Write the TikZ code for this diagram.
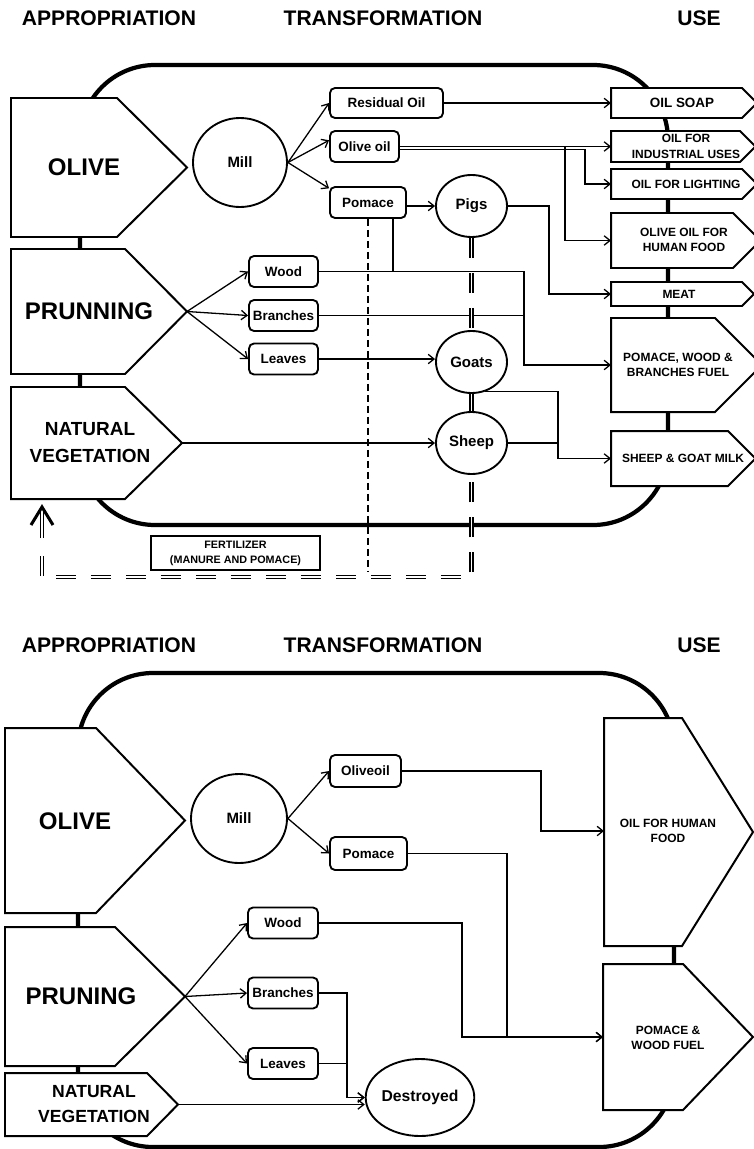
\documentclass[tikz,border=0pt]{standalone}
\usepackage{fontspec}
\setmainfont{Liberation Sans}
\usetikzlibrary{arrows.meta,shapes.geometric}

\begin{document}
\begin{tikzpicture}[x=0.03cm, y=-0.03cm,
  frame/.style={line width=3.6pt, rounded corners=2.25cm},
  flow/.style={draw, line width=1.7pt, fill=white, line join=miter},
  tbox/.style={draw, fill=white, line width=1.6pt, rounded corners=1.5mm,
               minimum height=0.93cm, inner sep=0pt,
               font=\fontsize{11.5}{13}\selectfont\bfseries},
  proc/.style={draw, ellipse, fill=white, line width=1.6pt, inner sep=0pt,
               font=\fontsize{12.8}{14}\selectfont\bfseries},
  head/.style={font=\fontsize{18}{20}\selectfont\bfseries},
  big/.style={font=\fontsize{20.5}{24}\selectfont\bfseries, align=center},
  veg/.style={font=\fontsize{16.2}{23}\selectfont\bfseries, align=center},
  sinklabel/.style={font=\fontsize{10.2}{13.2}\selectfont\bfseries, align=center},
  link/.style={line width=1.1pt},
  arrow/.style={link, -{Straight Barb[length=5pt,width=8pt]}},
  dbl/.style={double, double distance=1.6pt, line width=1.1pt},
  gaps/.style={dash pattern=on 0.6cm off 0.45cm},
  dots/.style={line width=1.6pt, dash pattern=on 0.21cm off 0.12cm}
]
\useasboundingbox (0,0) rectangle (753,1149);

%% ===================== upper diagram =====================
\node[head] (h-appr) at (109,18) {APPROPRIATION};
\node[head] (h-trans) at (383,18) {TRANSFORMATION};
\node[head] (h-use) at (699,18) {USE};

\draw[frame] (80,65) rectangle (668,525);

%% Appropriation
\draw[flow] (11,98) -- (117,98) -- (187,167.5) -- (117,237) -- (11,237) -- cycle;
\node[big] (olive) at (84,167) {OLIVE};

\draw[flow] (11,249) -- (125,249) -- (187,311.5) -- (125,374) -- (11,374) -- cycle;
\coordinate (prun-tip) at (187,311.5);
\node[big] (prun) at (89,311) {PRUNNING};

\draw[flow] (11,387) -- (125,387) -- (182,443) -- (125,499) -- (11,499) -- cycle;
\coordinate (veg-tip) at (182,443);
\node[veg] (veg) at (90,443) {NATURAL\\VEGETATION};

%% Use
\draw[flow] (611,88) -- (742,88) -- (757,103) -- (742,118) -- (611,118) -- cycle;
\coordinate (soap-in) at (611,103);
\node[sinklabel, font=\fontsize{11.5}{13}\selectfont\bfseries] (soap) at (682,103) {OIL SOAP};

\draw[flow] (611,131) -- (740,131) -- (755.5,146.5) -- (740,162) -- (611,162) -- cycle;
\coordinate (indus-in) at (611,146.5);
\node[sinklabel] (indus) at (686,146.5) {OIL FOR\\INDUSTRIAL USES};

\draw[flow] (611,169) -- (742,169) -- (757,184) -- (742,199) -- (611,199) -- cycle;
\coordinate (light-in) at (611,184);
\node[sinklabel] (light) at (686,184) {OIL FOR LIGHTING};

\draw[flow] (611,213) -- (733,213) -- (760.5,240.5) -- (733,268) -- (611,268) -- cycle;
\coordinate (human-in) at (611,240.5);
\node[sinklabel] (human) at (684,240) {OLIVE OIL FOR\\HUMAN FOOD};

\draw[flow] (611,282) -- (742,282) -- (754,294) -- (742,306) -- (611,306) -- cycle;
\coordinate (meat-in) at (611,294);
\node[sinklabel] (meat) at (679,294) {MEAT};

\draw[flow] (611,318) -- (715,318) -- (762,365) -- (715,412) -- (611,412) -- cycle;
\coordinate (fuel-in) at (611,365);
\node[sinklabel] (fuel) at (678,365) {POMACE, WOOD \&\\BRANCHES FUEL};

\draw[flow] (611,431) -- (728,431) -- (755.5,458.5) -- (728,486) -- (611,486) -- cycle;
\coordinate (milk-in) at (611,458.5);
\node[sinklabel] (milk) at (683,458.5) {SHEEP \& GOAT MILK};

%% Transformation
\node[proc, minimum width=2.82cm, minimum height=2.67cm] (mill) at (240,162.5) {Mill};
\node[tbox, minimum width=3.39cm, minimum height=0.9cm] (resid) at (386.5,103) {Residual Oil};
\node[tbox, minimum width=2.07cm] (oliveoil) at (364.5,146.5) {Olive oil};
\node[tbox, minimum width=2.28cm] (pomace) at (368,202.5) {Pomace};
\node[tbox, minimum width=2.07cm] (wood) at (283.5,271.5) {Wood};
\node[tbox, minimum width=2.07cm] (branches) at (283.5,315.5) {Branches};
\node[tbox, minimum width=2.07cm] (leaves) at (283.5,359) {Leaves};
\node[proc, minimum width=2.13cm, minimum height=1.86cm] (pigs) at (471.5,206) {Pigs};
\node[proc, minimum width=2.13cm, minimum height=1.86cm] (goats) at (471.5,362) {Goats};
\node[proc, minimum width=2.13cm, minimum height=1.86cm] (sheep) at (471.5,443) {Sheep};

\node[draw, fill=white, line width=1.4pt, minimum width=5.07cm, minimum height=1.02cm,
      inner sep=0pt, align=center, font=\fontsize{9.2}{12.8}\selectfont\bfseries]
  (fert) at (235.5,553) {FERTILIZER\\(MANURE AND POMACE)};

\coordinate (fb-corner) at (471.5,577);
\coordinate (fb-stem) at (42,556);
\coordinate (fb-end) at (42,507);
\coordinate (fuel-bus) at (524,365);
\coordinate (milk-bus) at (558,458.5);

%% Connectors
\draw[arrow] (mill.east) -- (resid.west);
\draw[arrow] (mill.east) -- (oliveoil.170);
\draw[arrow] (mill.east) -- (pomace.160);
\draw[arrow] (prun-tip) -- (wood.west);
\draw[arrow] (prun-tip) -- (branches.west);
\draw[arrow] (prun-tip) -- (leaves.west);

\draw[arrow] (resid.east) -- (soap-in);
\draw[arrow] (oliveoil.east) -- (indus-in);
\draw[arrow] ([yshift=-0.09cm]oliveoil.east) -- ++(185,0) |- (light-in);
\draw[arrow] (oliveoil.east) ++(165,0) |- (human-in);

\draw[arrow] (pigs.west -| pomace.east) -- (pigs.west);
\draw[link] ([xshift=0.75cm]pomace.south) -- ([xshift=0.75cm]pomace.south |- wood.east);
\draw[arrow] (wood.east) -| (fuel-bus) -- (fuel-in);
\draw[link] (branches.east) -| (fuel-bus);
\draw[arrow] (leaves.east) -- (leaves.east -| goats.west);
\draw[arrow] (veg-tip) -- (sheep.west);
\draw[arrow] (pigs.east) -- ++(41,0) |- (meat-in);
\draw[arrow] (goats.-65) -| (milk-bus) -- (milk-in);
\draw[link] (sheep.east) -| (milk-bus);

%% fertilizer return
\draw[dbl, gaps] (pigs) -- (goats);
\draw[dbl] (goats) -- (sheep);
\draw[dbl, gaps] (fb-stem) |- (fb-corner) -- (sheep);
\draw[dbl] ([yshift=-0.93cm]fb-end) -- ([yshift=-0.06cm]fb-end);
\draw[line width=2.6pt, line join=miter] (fb-end) ++(-11,18) -- (fb-end) -- ++(11,18);
\draw[dots] (pomace.south) -- (pomace.south |- 0,572);

%% ===================== lower diagram =====================
\node[head] (h-appr2) at (109,645) {APPROPRIATION};
\node[head] (h-trans2) at (383,645) {TRANSFORMATION};
\node[head] (h-use2) at (699,645) {USE};

\draw[frame] (78,673) rectangle (674,1147);

%% Appropriation
\draw[flow] (5,728) -- (96,728) -- (185,820.5) -- (96,913) -- (5,913) -- cycle;
\node[big] (olive2) at (75,821) {OLIVE};

\draw[flow] (5,927) -- (115,927) -- (185,996.5) -- (115,1066) -- (5,1066) -- cycle;
\coordinate (prun2-tip) at (185,996.5);
\node[big] (prun2) at (81,996) {PRUNING};

\draw[flow] (5,1073) -- (147,1073) -- (178,1104.5) -- (147,1136) -- (5,1136) -- cycle;
\coordinate (veg2-tip) at (178,1104.5);
\node[veg, font=\fontsize{15}{21}\selectfont\bfseries] (veg2) at (94,1104) {NATURAL\\VEGETATION};

%% Use
\draw[flow] (604,718) -- (682,718) -- (753,832) -- (682,946) -- (604,946) -- cycle;
\coordinate (human2-in) at (604,831);
\node[sinklabel] (human2) at (668,831) {OIL FOR HUMAN\\FOOD};

\draw[flow] (603,964) -- (683,964) -- (753,1037) -- (683,1110) -- (603,1110) -- cycle;
\coordinate (fuel2-in) at (603,1037);
\node[sinklabel] (fuel2) at (668,1038) {POMACE \&\\WOOD FUEL};

%% Transformation
\node[proc, minimum width=2.88cm, minimum height=2.67cm] (mill2) at (239,818.5) {Mill};
\node[tbox, minimum width=2.13cm, minimum height=0.96cm] (oliveoil2) at (365.5,771) {Oliveoil};
\node[tbox, minimum width=2.31cm, minimum height=0.99cm] (pomace2) at (368.5,853.5) {Pomace};
\node[tbox, minimum width=2.1cm] (wood2) at (283,923) {Wood};
\node[tbox, minimum width=2.1cm] (branches2) at (283,993) {Branches};
\node[tbox, minimum width=2.1cm] (leaves2) at (283,1063.5) {Leaves};
\node[proc, minimum width=2.64cm, minimum height=2.31cm,
      font=\fontsize{13.4}{15}\selectfont\bfseries] (destroyed) at (420,1097.5) {Destroyed};

%% Connectors
\draw[arrow] (mill2.east) -- (oliveoil2.west);
\draw[arrow] (mill2.east) -- (pomace2.west);
\draw[arrow] (prun2-tip) -- (wood2.west);
\draw[arrow] (prun2-tip) -- (branches2.west);
\draw[arrow] (prun2-tip) -- (leaves2.west);

\draw[arrow] (oliveoil2.east) -- ++(139,0) |- (human2-in);
\draw[arrow] (pomace2.east) -- ++(99,0) |- (fuel2-in);
\draw[arrow] (wood2.east) -- ++(143,0) |- (fuel2-in);
\draw[arrow] (branches2.east) -- ++(28,0) |- (destroyed.west);
\draw[arrow] (leaves2.east) -- ++(28,0) |- (destroyed.west);
\draw[arrow] (veg2-tip) -- (destroyed.west |- veg2-tip);

\end{tikzpicture}
\end{document}
